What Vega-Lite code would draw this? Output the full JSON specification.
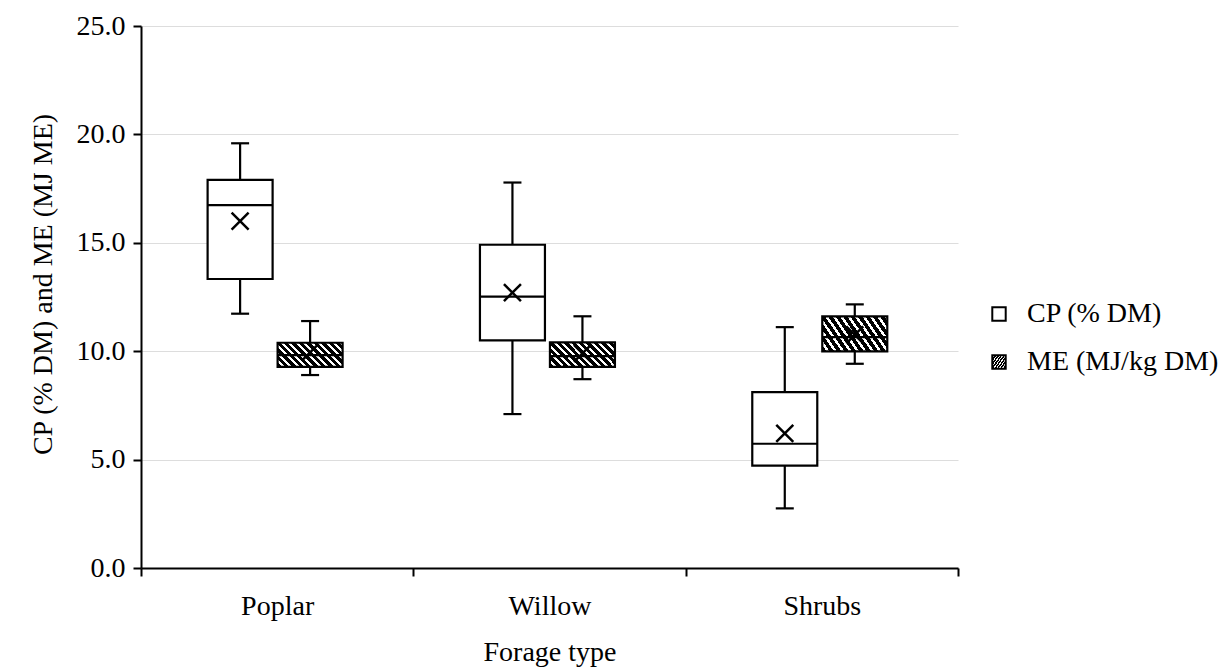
{
  "$schema": "https://vega.github.io/schema/vega-lite/v6.json",
  "autosize": "none",
  "padding": {"left": 141, "top": 26, "right": 270, "bottom": 103},
  "width": 817,
  "height": 542,
  "background": "white",
  "config": {
    "view": {"stroke": null},
    "font": "Liberation Serif",
    "axis": {
      "labelFont": "Liberation Serif",
      "titleFont": "Liberation Serif",
      "labelFontSize": 28,
      "titleFontSize": 28,
      "labelColor": "black",
      "titleColor": "black",
      "titleFontWeight": "normal",
      "domainColor": "black",
      "domainWidth": 2,
      "tickColor": "black",
      "tickWidth": 2,
      "tickSize": 8
    }
  },
  "data": {
    "values": [
      {"forage": "Poplar", "measure": "CP (% DM)", "min": 11.73, "q1": 13.33, "median": 16.74, "q3": 17.90, "max": 19.59, "mean": 16.00},
      {"forage": "Poplar", "measure": "ME (MJ/kg DM)", "min": 8.90, "q1": 9.28, "median": 9.82, "q3": 10.39, "max": 11.39, "mean": 9.95},
      {"forage": "Willow", "measure": "CP (% DM)", "min": 7.10, "q1": 10.50, "median": 12.52, "q3": 14.91, "max": 17.78, "mean": 12.70},
      {"forage": "Willow", "measure": "ME (MJ/kg DM)", "min": 8.71, "q1": 9.28, "median": 9.77, "q3": 10.41, "max": 11.61, "mean": 9.90},
      {"forage": "Shrubs", "measure": "CP (% DM)", "min": 2.75, "q1": 4.72, "median": 5.73, "q3": 8.11, "max": 11.11, "mean": 6.21},
      {"forage": "Shrubs", "measure": "ME (MJ/kg DM)", "min": 9.42, "q1": 9.99, "median": 10.65, "q3": 11.61, "max": 12.16, "mean": 10.75}
    ]
  },
  "encoding": {
    "x": {
      "field": "forage",
      "type": "nominal",
      "sort": ["Poplar", "Willow", "Shrubs"],
      "scale": {"paddingInner": 0, "paddingOuter": 0},
      "axis": {
        "title": "Forage type",
        "labelAngle": 0,
        "labelPadding": 16,
        "titlePadding": 18,
        "tickBand": "extent",
        "grid": false
      }
    },
    "xOffset": {
      "field": "measure",
      "type": "nominal",
      "sort": ["CP (% DM)", "ME (MJ/kg DM)"],
      "scale": {"paddingInner": 0.0714, "paddingOuter": 0.981, "align": 0.485}
    }
  },
  "layer": [
    {
      "mark": {"type": "rule", "color": "black", "strokeWidth": 2.2},
      "encoding": {
        "y": {
          "field": "min",
          "type": "quantitative",
          "scale": {"domain": [0, 25], "nice": false, "zero": true},
          "axis": {
            "title": "CP (% DM) and ME (MJ ME)",
            "values": [0, 5, 10, 15, 20, 25],
            "format": ".1f",
            "grid": true,
            "gridColor": "#dddddd",
            "gridWidth": 1,
            "labelPadding": 8,
            "titlePadding": 19,
            "titleY": 258
          }
        },
        "y2": {"field": "q1"}
      }
    },
    {
      "mark": {"type": "rule", "color": "black", "strokeWidth": 2.2},
      "encoding": {
        "y": {"field": "q3", "type": "quantitative"},
        "y2": {"field": "max"}
      }
    },
    {
      "mark": {"type": "tick", "color": "black", "thickness": 2.2, "size": 18, "opacity": 1},
      "encoding": {"y": {"field": "min", "type": "quantitative"}}
    },
    {
      "mark": {"type": "tick", "color": "black", "thickness": 2.2, "size": 18, "opacity": 1},
      "encoding": {"y": {"field": "max", "type": "quantitative"}}
    },
    {
      "mark": {"type": "bar", "stroke": "black", "strokeWidth": 2.2, "opacity": 1},
      "encoding": {
        "y": {"field": "q1", "type": "quantitative"},
        "y2": {"field": "q3"},
        "fill": {
          "field": "measure",
          "type": "nominal",
          "scale": {
            "domain": ["CP (% DM)", "ME (MJ/kg DM)"],
            "range": [
              "white",
              {"expr": "{gradient: 'linear', x1: 0, y1: 1, x2: 1.205, y2: 0.554, stops: [{offset: 0, color: 'black'}, {offset: 0.05, color: 'black'}, {offset: 0.05, color: 'white'}, {offset: 0.0833, color: 'white'}, {offset: 0.0833, color: 'black'}, {offset: 0.1333, color: 'black'}, {offset: 0.1333, color: 'white'}, {offset: 0.1667, color: 'white'}, {offset: 0.1667, color: 'black'}, {offset: 0.2167, color: 'black'}, {offset: 0.2167, color: 'white'}, {offset: 0.25, color: 'white'}, {offset: 0.25, color: 'black'}, {offset: 0.3, color: 'black'}, {offset: 0.3, color: 'white'}, {offset: 0.3333, color: 'white'}, {offset: 0.3333, color: 'black'}, {offset: 0.3833, color: 'black'}, {offset: 0.3833, color: 'white'}, {offset: 0.4167, color: 'white'}, {offset: 0.4167, color: 'black'}, {offset: 0.4667, color: 'black'}, {offset: 0.4667, color: 'white'}, {offset: 0.5, color: 'white'}, {offset: 0.5, color: 'black'}, {offset: 0.55, color: 'black'}, {offset: 0.55, color: 'white'}, {offset: 0.5833, color: 'white'}, {offset: 0.5833, color: 'black'}, {offset: 0.6333, color: 'black'}, {offset: 0.6333, color: 'white'}, {offset: 0.6667, color: 'white'}, {offset: 0.6667, color: 'black'}, {offset: 0.7167, color: 'black'}, {offset: 0.7167, color: 'white'}, {offset: 0.75, color: 'white'}, {offset: 0.75, color: 'black'}, {offset: 0.8, color: 'black'}, {offset: 0.8, color: 'white'}, {offset: 0.8333, color: 'white'}, {offset: 0.8333, color: 'black'}, {offset: 0.8833, color: 'black'}, {offset: 0.8833, color: 'white'}, {offset: 0.9167, color: 'white'}, {offset: 0.9167, color: 'black'}, {offset: 0.9667, color: 'black'}, {offset: 0.9667, color: 'white'}, {offset: 1, color: 'white'}]}"}
            ]
          },
          "legend": {
            "title": null,
            "orient": "none",
            "legendX": 844,
            "legendY": 274,
            "padding": 0,
            "symbolType": "square",
            "symbolSize": 180,
            "symbolStrokeWidth": 2,
            "symbolStrokeColor": "black",
            "symbolOpacity": 1,
            "labelFont": "Liberation Serif",
            "labelFontSize": 28,
            "labelColor": "black",
            "labelOffset": 14,
            "labelLimit": 400,
            "rowPadding": 20
          }
        }
      }
    },
    {
      "mark": {"type": "tick", "color": "black", "thickness": 2.2, "size": 65, "opacity": 1},
      "encoding": {"y": {"field": "median", "type": "quantitative"}}
    },
    {
      "mark": {"type": "point", "shape": "M-1,-1L1,1M-1,1L1,-1", "filled": false, "stroke": "black", "strokeWidth": 2.5, "size": 289, "opacity": 1},
      "encoding": {"y": {"field": "mean", "type": "quantitative"}}
    }
  ]
}
